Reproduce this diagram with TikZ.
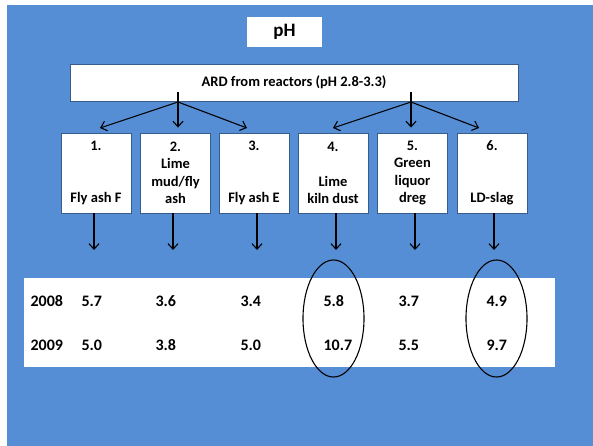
\documentclass[tikz,border=0pt]{standalone}
\usepackage{fontspec}
\setmainfont{Carlito}
\usetikzlibrary{arrows.meta,shapes.geometric}
\definecolor{slideblue}{RGB}{85,142,213}
\definecolor{edgeblue}{RGB}{56,93,138}
\tikzset{
  box/.style={draw=edgeblue,line width=0.9pt,fill=white,minimum width=70pt,minimum height=80pt,align=center,inner sep=0pt,font=\fontsize{14.5}{17.5}\selectfont\bfseries},
  val/.style={anchor=base west,inner sep=0pt,font=\fontsize{16}{19}\selectfont\bfseries},
  ring/.style={draw,ellipse,line width=1.1pt,minimum width=61pt,minimum height=117pt,inner sep=0pt}
}

\begin{document}
\begin{tikzpicture}[x=1pt,y=-1pt,>={Straight Barb[length=5.5pt,width=10pt]},line width=1.1pt]
  \fill[white] (0,0) rectangle (593,446); \fill[slideblue] (7,5) rectangle (593,446);
  \node[box,draw=none,minimum width=75pt,minimum height=30pt,font=\fontsize{19}{22}\selectfont\bfseries] (ph) at (284.5,32) {pH};
  \node[box,minimum width=448pt,minimum height=37pt] (ard) at (294,82.5) {ARD from reactors (pH 2.8-3.3)};
  % six treatments
  \node[box] (b1) at (96,173) {1.\\\mbox{}\\\mbox{}\\Fly ash F};
  \node[box] (b2) at (175.5,173) {2.\\Lime\\mud/fly\\ash};
  \node[box] (b3) at (254,173) {3.\\\mbox{}\\\mbox{}\\Fly ash E};
  \node[box] (b4) at (333,173) {4.\\\mbox{}\\Lime\\kiln dust};
  \node[box] (b5) at (412.5,173) {5.\\Green\\liquor\\dreg};
  \node[box] (b6) at (492,173) {6.\\\mbox{}\\\mbox{}\\LD-slag};
  % fan out of the ARD box
  \coordinate (fl) at (178,92); \coordinate (jl) at (178,102); \coordinate (fr) at (411,92); \coordinate (jr) at (411,102);
  \coordinate (a1) at (100,128); \coordinate (a3) at (247,128); \coordinate (a4) at (333,128); \coordinate (a6) at (479,128);
  \draw[->,shorten >=5pt] (fl) -- (fl |- b2.north); \draw[->] (jl) -- (a1); \draw[->] (jl) -- (a3);
  \draw[->,shorten >=5pt] (fr) -- (fr |- b5.north); \draw[->] (jr) -- (a4); \draw[->] (jr) -- (a6);
  % arrows down to the table
  \coordinate (d1) at (94,250); \coordinate (d2) at (173,250); \coordinate (d3) at (257,250); \coordinate (d4) at (336,250); \coordinate (d5) at (415,250); \coordinate (d6) at (494,250);
  \draw[->] (b1.south -| d1) -- (d1); \draw[->] (b2.south -| d2) -- (d2); \draw[->] (b3.south -| d3) -- (d3);
  \draw[->] (b4.south -| d4) -- (d4); \draw[->] (b5.south -| d5) -- (d5); \draw[->] (b6.south -| d6) -- (d6);
  % table of pH values
  \node[fill=white,minimum width=531pt,minimum height=89pt,inner sep=0pt] (tab) at (289.5,322.5) {};
  \node[val] (y8) at (30,306.5) {2008}; \node[val] (y9) at (30,350.5) {2009};
  \node[val] (v18) at (81,306.5) {5.7}; \node[val] (v19) at (81,350.5) {5.0};
  \node[val] (v28) at (155,306.5) {3.6}; \node[val] (v29) at (155,350.5) {3.8};
  \node[val] (v38) at (240,306.5) {3.4}; \node[val] (v39) at (240,350.5) {5.0};
  \node[val] (v48) at (323,306.5) {5.8}; \node[val] (v49) at (323,350.5) {10.7};
  \node[val] (v58) at (398,306.5) {3.7}; \node[val] (v59) at (398,350.5) {5.5};
  \node[val] (v68) at (486,306.5) {4.9}; \node[val] (v69) at (486,350.5) {9.7};
  \node[ring] (e4) at (333.5,318.5) {}; \node[ring] (e6) at (496.5,318.5) {};
\end{tikzpicture}
\end{document}
